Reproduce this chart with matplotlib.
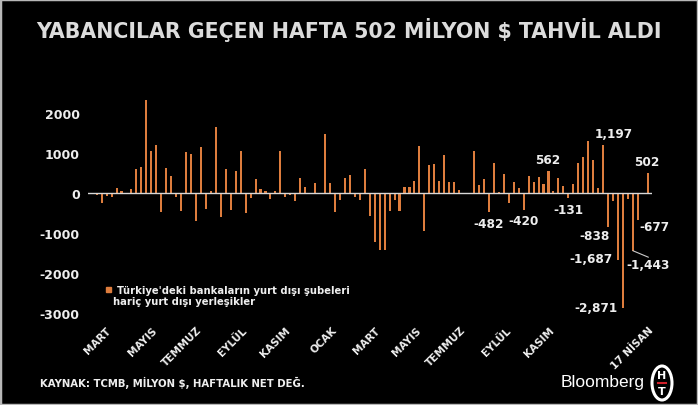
import matplotlib
matplotlib.use("Agg")
import matplotlib.pyplot as plt
from matplotlib.patches import Rectangle, Ellipse
from matplotlib.lines import Line2D

W, H = 698, 406

# ---- data (weekly net flows, million $) ----
values = [10, -60, -260, -80, -90, 117, 60, 0, 100, 592,
          658, 2325, 1050, 1200, -483, 617, 417, -100, -460, 1017,
          980, -692, 1142, -400, 40, 1658, -608, 592, -425, 558,
          1050, -508, -130, 342, 110, 60, -150, 40, 1040, -100,
          -50, -195, 370, 150, 0, 240, 10, 1470, 255, -470,
          -180, 380, 440, -100, -180, 610, -570, -1220, -1420, -1420,
          -455, -170, -445, 150, 140, 305, 1180, -958, 690, 725,
          310, 942, 283, 270, 80, -10, -10, 1042, 200, 350,
          -482, 750, 20, 483, -250, 270, 130, -420, 433, 280,
          408, 233, 562, 50, 383, 180, -131, 220, 742, 892,
          1292, 825, 130, 1197, -838, -200, -1687, -2871, -150, -1443,
          -677, 0, 502]
tick_labels = ["MART", "MAYIS", "TEMMUZ", "EYLÜL", "KASIM", "OCAK",
               "MART", "MAYIS", "TEMMUZ", "EYLÜL", "KASIM", "17 NİSAN"]
tick_pos = [2.9, 12.2, 21.0, 30.2, 39.0, 48.4, 57.0, 65.2, 74.2, 83.4, 92.2, 112.0]
yticks = [-3000, -2000, -1000, 0, 1000, 2000]
labeled = [80, 87, 92, 96, 103, 104, 106, 107, 109, 110, 112]
# label offsets in pixels (dx, dy; dy positive = up)
label_off = {80: (0, -11), 87: (0, -11), 92: (-1, 11), 96: (0, -11.5),
             103: (11, 12), 104: (-13, -8.5), 106: (-27, 1.5), 107: (-27, 0),
             109: (15.5, -14), 110: (17, -6.7), 112: (-1, 11)}

title = "YABANCILAR GEÇEN HAFTA 502 MİLYON $ TAHVİL ALDI"
legend_text = "Türkiye'deki bankaların yurt dışı şubeleri"
legend_text2 = "hariç yurt dışı yerleşikler"
source = "KAYNAK: TCMB, MİLYON $, HAFTALIK NET DEĞ."

BAR = "#de7d3d"
TXT = "#eeeeee"

fig = plt.figure(figsize=(W / 100, H / 100), dpi=100, facecolor="black")

def fx(px):
    return px / W

def fy(py):
    return 1 - py / H

ax_l, ax_r, ax_t, ax_b = 88, 652, 95, 320
ax = fig.add_axes([fx(ax_l), fy(ax_b), (ax_r - ax_l) / W, (ax_b - ax_t) / H])
ax.set_facecolor("black")
idx = list(range(len(values)))
ax.bar(idx, values, width=0.42, color=BAR, zorder=2)
ax.axhline(0, color="#d8d8d8", lw=1.0, zorder=3)
ax.set_xlim(-0.75, 112.85)
ax.set_ylim(-3150, 2475)
for s in ax.spines.values():
    s.set_visible(False)
ax.set_yticks(yticks)
ax.set_yticklabels([str(v) for v in yticks], color=TXT, fontsize=9, fontweight="bold")
ax.tick_params(axis="y", length=0, pad=6)
ax.set_xticks(tick_pos)
ax.set_xticklabels(tick_labels, rotation=45, ha="right", va="top",
                   rotation_mode="anchor", color=TXT, fontsize=7.5, fontweight="bold")
ax.tick_params(axis="x", length=0, pad=4)

for i in labeled:
    v = values[i]
    dx, dy = label_off[i]
    ax.annotate(f"{v:,}", xy=(i, v), xytext=(dx * 0.72, dy * 0.72),
                textcoords="offset points", ha="center", va="center",
                color=TXT, fontsize=8.7, fontweight="bold", zorder=4)
# leader line for -1,443
ax.annotate("", xy=(109, values[109]), xytext=(15.5 * 0.72, -6.5 * 0.72),
            textcoords="offset points",
            arrowprops=dict(arrowstyle="-", color="#cccccc", lw=0.8,
                            shrinkA=0, shrinkB=0))

# title
fig.text(0.5, fy(30), title, ha="center", va="center", color="#dcdcdc",
         fontsize=14.8, fontweight="bold")

# legend
fig.patches.append(Rectangle((fx(105.5), fy(293)), 5 / W, 5 / H,
                             transform=fig.transFigure, color=BAR))
fig.text(fx(117), fy(290.5), legend_text, ha="left", va="center", color=TXT,
         fontsize=7.2, fontweight="bold")
fig.text(fx(113), fy(302), legend_text2, ha="left", va="center", color=TXT,
         fontsize=7.2, fontweight="bold")

# source
fig.text(fx(40), fy(383), source, ha="left", va="center", color=TXT,
         fontsize=7.3, fontweight="bold")

# Bloomberg HT logo
fig.text(fx(645), fy(383), "Bloomberg", ha="right", va="center", color="white",
         fontsize=12.5, family="Liberation Sans")
fig.patches.append(Ellipse((fx(662), fy(384)), 20 / W, 34 / H,
                           transform=fig.transFigure, facecolor="black",
                           edgecolor="white", lw=2.2))
fig.text(fx(662), fy(376), "H", ha="center", va="center", color="white",
         fontsize=8, fontweight="bold")
fig.text(fx(662), fy(392), "T", ha="center", va="center", color="white",
         fontsize=8, fontweight="bold")
fig.lines.append(Line2D([fx(658), fx(666)], [fy(384), fy(384)],
                        transform=fig.transFigure, color="#d0202a", lw=1.5))

# border
fig.patches.append(Rectangle((0, 0), 1, 1, transform=fig.transFigure,
                             fill=False, edgecolor="#b8b8b8", lw=2.5))

fig.savefig("out.png", dpi=100, facecolor="black")
